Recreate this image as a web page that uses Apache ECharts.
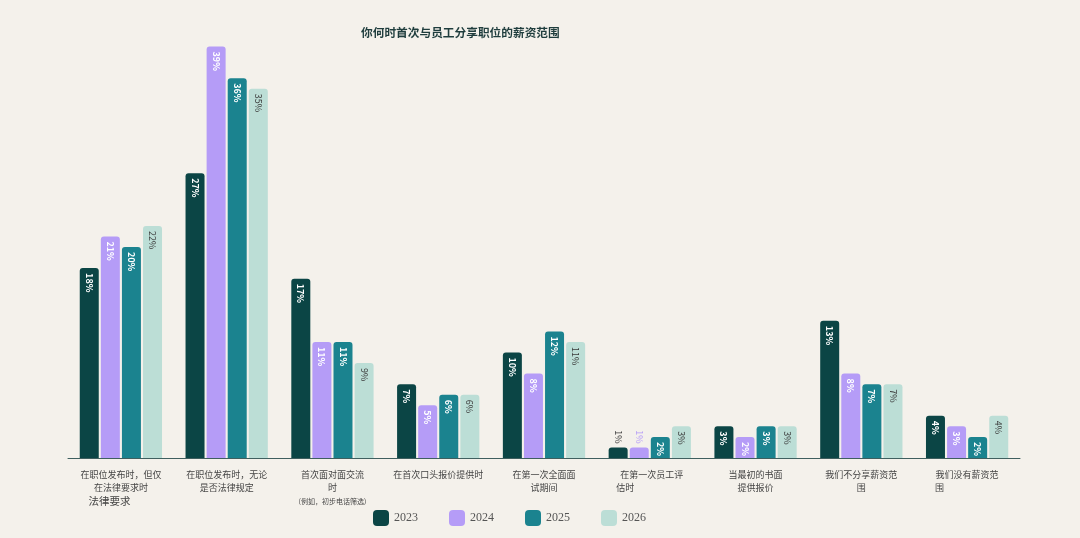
<html>
<head>
<meta charset="utf-8">
<script src="https://cdn.jsdelivr.net/npm/echarts@6/dist/echarts.min.js"></script>
<style>
  body { margin: 0; background: #f4f1eb; }
  #main { width: 1080px; height: 538px; }
</style>
</head>
<body>
<div id="main"></div>
<script type="text/javascript">

var categories = [
    '在职位发布时，但仅\n在法律要求时\n{big|法律要求}',
    '在职位发布时，无论\n是否法律规定',
    '首次面对面交流\n时\n{small|(例如，初步电话筛选)}',
    '在首次口头报价提供时',
    '在第一次全面面\n试期间',
    '  在第一次员工评\n{l|估时}',
    '当最初的书面\n提供报价',
    '我们不分享薪资范\n围',
    '我们没有薪资范\n{l|围}'
];
var years = ['2023', '2024', '2025', '2026'];
var v2023 = [18, 27, 17, 7, 10, 1, 3, 13, 4];
var v2024 = [21, 39, 11, 5, 8, 1, 2, 8, 3];
var v2025 = [20, 36, 11, 6, 12, 2, 3, 7, 2];
var v2026 = [22, 35, 9, 6, 11, 3, 3, 7, 4];

var colors = ['#0b4545', '#b59cf7', '#1b838f', '#bcded6'];
var labelColors = ['#ffffff', '#ffffff', '#ffffff', '#3a3a3a'];
var outsideColors = ['#3a3a3a', '#b59cf7', '#3a3a3a', '#3a3a3a'];

function makeSeries(name, values, idx) {
    return {
        name: name,
        type: 'bar',
        barWidth: 19,
        barGap: '11%',
        itemStyle: {
            color: colors[idx],
            borderRadius: [3, 3, 0, 0]
        },
        data: values.map(function (v) {
            var item = { value: v };
            if (v < 2) {
                // too short to hold the label: put it above the bar
                item.label = {
                    position: 'top',
                    distance: 4,
                    align: 'right',
                    verticalAlign: 'middle',
                    color: outsideColors[idx],
                    fontWeight: 'normal'
                };
            }
            return item;
        }),
        label: {
            show: true,
            position: 'insideTop',
            rotate: -90,
            distance: 5,
            align: 'left',
            verticalAlign: 'middle',
            formatter: '{c}%',
            fontSize: 9,
            fontWeight: idx === 3 ? 'normal' : 'bold',
            color: labelColors[idx]
        }
    };
}

var option = {
    backgroundColor: '#f4f1eb',
    textStyle: { fontFamily: '"Noto Sans CJK SC", "Noto Sans", sans-serif' },
    title: {
        text: '你何时首次与员工分享职位的薪资范围',
        left: 356,
        top: 22,
        textStyle: {
            fontSize: 11.7,
            fontWeight: 'bold',
            color: '#1f3d3d'
        }
    },
    legend: {
        data: years,
        top: 505,
        left: 368,
        icon: 'roundRect',
        itemWidth: 16,
        itemHeight: 16,
        itemGap: 31,
        textStyle: {
            fontFamily: '"Liberation Serif", serif',
            fontSize: 12,
            color: '#555'
        }
    },
    grid: {
        left: 68,
        right: 60,
        top: 36,
        bottom: 80
    },
    xAxis: {
        type: 'category',
        data: categories,
        axisLine: { lineStyle: { color: '#3f5f5f' } },
        axisTick: { lineStyle: { color: '#3f5f5f' }, length: 5 },
        axisLabel: {
            interval: 0,
            fontSize: 9,
            lineHeight: 13,
            color: '#444',
            margin: 10,
            rich: {
                big: { fontSize: 10.5, color: '#444', lineHeight: 14, width: 56, align: 'left', padding: [0, 0, 0, 8] },
                small: { fontSize: 7, color: '#444', lineHeight: 14 },
                l: { fontSize: 9, color: '#444', lineHeight: 13, width: 64, align: 'left' }
            }
        }
    },
    yAxis: {
        type: 'value',
        min: 0,
        max: 40,
        show: false,
        splitLine: { show: false }
    },
    series: [
        makeSeries('2023', v2023, 0),
        makeSeries('2024', v2024, 1),
        makeSeries('2025', v2025, 2),
        makeSeries('2026', v2026, 3)
    ]
};

var chart = echarts.init(document.getElementById('main'));
chart.setOption(option);

</script>
</body>
</html>
